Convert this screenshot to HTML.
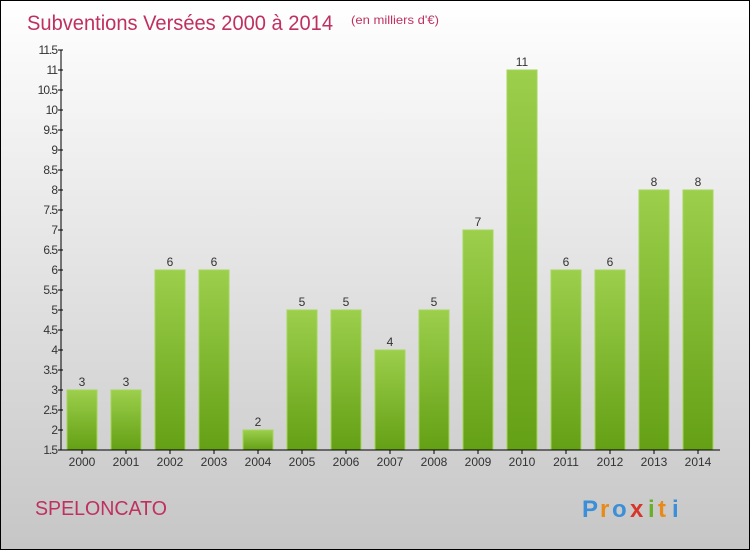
<!DOCTYPE html>
<html><head><meta charset="utf-8"><style>
body{margin:0;width:750px;height:550px;overflow:hidden;font-family:"Liberation Sans",sans-serif}
</style></head><body>
<svg width="750" height="550" xmlns="http://www.w3.org/2000/svg">
<defs>
<linearGradient id="bg" x1="0" y1="0" x2="0" y2="1"><stop offset="0" stop-color="#ffffff"/><stop offset="1" stop-color="#c6c6c6"/></linearGradient>
<linearGradient id="bar" x1="0" y1="0" x2="0" y2="1"><stop offset="0" stop-color="#9ccf4c"/><stop offset="1" stop-color="#64a015"/></linearGradient>
</defs>
<rect x="0.5" y="0.5" width="749" height="549" fill="url(#bg)" stroke="#000"/>
<text x="27" y="30" font-size="21" fill="#c0305f" textLength="306" lengthAdjust="spacingAndGlyphs">Subventions Versées 2000 à 2014</text>
<text x="351" y="24" font-size="12" fill="#c0305f" textLength="88" lengthAdjust="spacingAndGlyphs">(en milliers d'€)</text>
<text x="35" y="515" font-size="20" fill="#c0305f" textLength="132" lengthAdjust="spacingAndGlyphs">SPELONCATO</text>
<g font-size="24" font-weight="bold">
<text x="582" y="517" fill="#3a8fd8">P</text><text x="600" y="517" fill="#e88a1a">r</text><text x="612" y="517" fill="#3a8fd8">o</text><text x="630" y="517" fill="#d8352a">x</text><text x="648" y="517" fill="#69b02a">i</text><text x="658" y="517" fill="#e88a1a">t</text><text x="672" y="517" fill="#3a8fd8">i</text>
</g>
<g id="plot"></g>
</svg>
<script>
const years=["2000","2001","2002","2003","2004","2005","2006","2007","2008","2009","2010","2011","2012","2013","2014"];
const values=[3,3,6,6,2,5,5,4,5,7,11,6,6,8,8];
const ticks=[1.5,2,2.5,3,3.5,4,4.5,5,5.5,6,6.5,7,7.5,8,8.5,9,9.5,10,10.5,11,11.5];
const NS="http://www.w3.org/2000/svg";
const g=document.getElementById('plot');
const y=v=>450-(v-1.5)*40;
const x=i=>82+i*44;
function mk(t,a,p){const e=document.createElementNS(NS,t);for(const k in a)e.setAttribute(k,a[k]);(p||g).appendChild(e);return e;}
values.forEach((v,i)=>{
 const r=mk('rect',{x:x(i)-15,y:y(v),width:30,height:450-y(v),fill:'url(#bar)',stroke:'#a5d55a','stroke-width':1});
 
 
 const t=mk('text',{x:x(i),y:y(v)-4,'font-size':12,'text-anchor':'middle',fill:'#333'});t.textContent=v;
 
 
 const l=mk('text',{x:x(i),y:466,'font-size':12,'text-anchor':'middle',fill:'#333'});l.textContent=years[i];
 
 
 mk('line',{x1:x(i),x2:x(i),y1:450,y2:454,stroke:'#000'});
});
ticks.forEach(v=>{
 mk('line',{x1:58,x2:63,y1:y(v),y2:y(v),stroke:'#000'});
 const t=mk('text',{x:57,y:y(v)+4,'font-size':12,'text-anchor':'end',fill:'#333','letter-spacing':'-1'});t.textContent=v;
 
 
});
const ya=mk('line',{x1:61,x2:61,y1:50,y2:450,stroke:'#000'});


const xa=mk('line',{x1:61,x2:720,y1:450,y2:450,stroke:'#000'});


</script>
</body></html>
